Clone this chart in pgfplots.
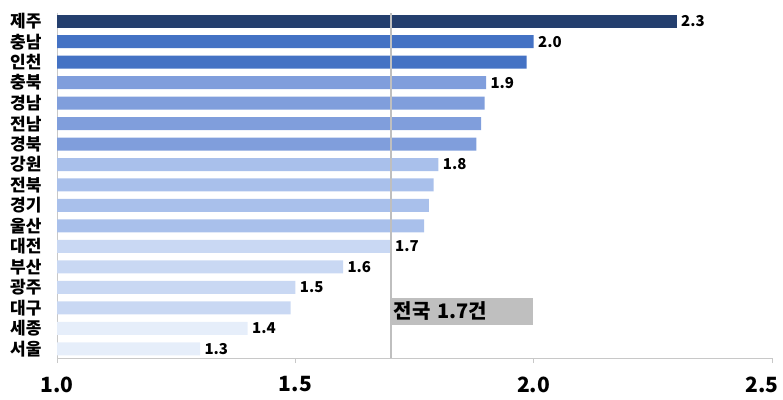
\documentclass[border=0pt]{standalone}
\usepackage{fontspec}
\setmainfont{Noto Sans CJK KR}
\usepackage{pgfplots}
\pgfplotsset{compat=1.18}
\definecolor{cA}{HTML}{243F6E}
\definecolor{cB}{HTML}{4472C4}
\definecolor{cC}{HTML}{809EDC}
\definecolor{cD}{HTML}{A9C0EB}
\definecolor{cE}{HTML}{C9D8F3}
\definecolor{cF}{HTML}{E6EEFA}
\definecolor{axgray}{HTML}{C8C8C8}
\definecolor{refgray}{HTML}{BFBFBF}
\begin{document}
\begin{tikzpicture}
\path[use as bounding box] (-57pt,-41pt) rectangle (726pt,358pt);
\begin{axis}[
  scale only axis,
  width=715pt, height=345pt,
  xmin=1.0, xmax=2.5,
  ymin=-0.4, ymax=16.45,
  y dir=reverse,
  axis x line*=bottom,
  axis y line*=left,
  axis line style={axgray, line width=1pt},
  xtick={1.0,1.5,2.0},
  extra x ticks={2.5},
  extra x tick style={xticklabel style={xshift=-10pt}},
  xticklabel style={font=\fontsize{21}{23}\selectfont\bfseries, yshift=-10pt},
  /pgf/number format/assume math mode=true,
  xticklabel={\pgfmathprintnumber[fixed,fixed zerofill,precision=1]{\tick}},
  major tick length=5pt,
  tick align=outside,
  x tick style={axgray, line width=1pt},
  ytick={0,...,16},
  yticklabels={제주,충남,인천,충북,경남,전남,경북,강원,전북,경기,울산,대전,부산,광주,대구,세종,서울},
  yticklabel style={font=\fontsize{17}{19}\selectfont\bfseries, xshift=-7pt},
  y tick style={draw=none},
  xbar, bar width=13pt, bar shift=0pt,
  clip=false,
]
\addplot[draw=none, fill=cA] coordinates {(2.30,0)};
\addplot[draw=none, fill=cB] coordinates {(2.00,1) (1.985,2)};
\addplot[draw=none, fill=cC] coordinates {(1.90,3) (1.897,4) (1.89,5) (1.88,6)};
\addplot[draw=none, fill=cD] coordinates {(1.80,7) (1.79,8) (1.78,9) (1.77,10)};
\addplot[draw=none, fill=cE] coordinates {(1.70,11) (1.60,12) (1.50,13) (1.49,14)};
\addplot[draw=none, fill=cF] coordinates {(1.40,15) (1.30,16)};
% value labels
\addplot[draw=none, fill=none,
  nodes near coords={\pgfmathprintnumber[fixed,fixed zerofill,precision=1]{\pgfplotspointmeta}},
  point meta=x,
  nodes near coords style={font=\fontsize{15}{17}\selectfont\bfseries, anchor=west, xshift=1pt, text=black}]
  coordinates {(2.30,0) (2.00,1) (1.90,3) (1.80,7) (1.70,11) (1.60,12) (1.50,13) (1.40,15) (1.30,16)};
% national average line
\addplot[xbar=0pt, draw=refgray, line width=2pt, sharp plot] coordinates {(1.7,-0.4) (1.7,16.45)};
\node[fill=refgray, anchor=west, minimum width=142pt, minimum height=27pt, inner sep=3pt,
  text width=136pt, align=left, font=\fontsize{20}{22}\selectfont\bfseries]
  at (axis cs:1.7,14.17) {전국 1.7건};
\end{axis}
\end{tikzpicture}
\end{document}
